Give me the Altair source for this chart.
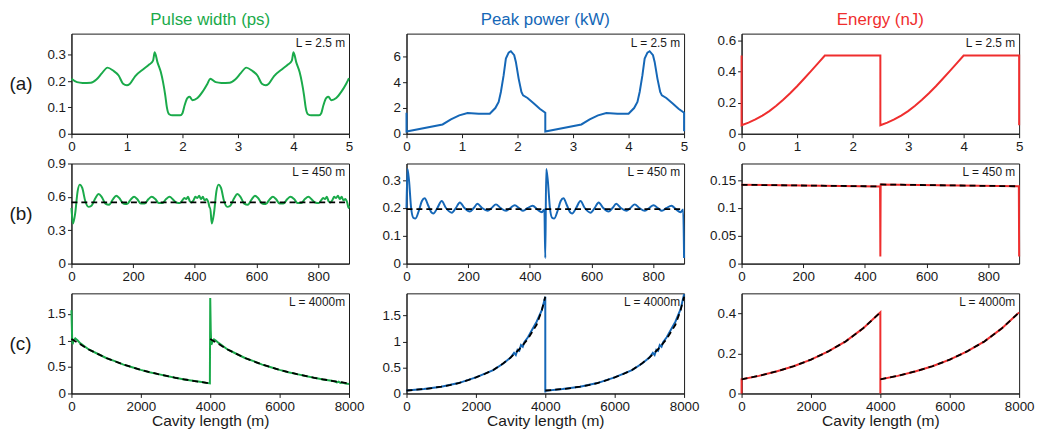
import altair as alt
import pandas as pd

FONT = "Liberation Sans"
GREEN = "#1aaa4a"
BLUE = "#1567b7"
RED = "#ef2e2e"
INK = "#1a1a1a"
W, H = 280, 101

COL_TITLES = ["Pulse width (ps)", "Peak power (kW)", "Energy (nJ)"]
COL_COLORS = [GREEN, BLUE, RED]
ROW_LABELS = ["(a)", "(b)", "(c)"]
L_LABELS = ["L = 2.5 m", "L = 450 m", "L = 4000m"]
X_TITLE = "Cavity length (m)"

X_DOMAINS = [[0, 5], [0, 900], [0, 8000]]
X_TICKS = [[0, 1, 2, 3, 4, 5], [0, 200, 400, 600, 800], [0, 2000, 4000, 6000, 8000]]
Y_DOMAINS = [
    [[0, 0.38], [0, 7.75], [0, 0.645]],
    [[0, 0.9], [0, 0.36], [0, 0.18]],
    [[0, 1.89], [0, 1.925], [0, 0.5]],
]
Y_TICKS = [
    [[0, 0.1, 0.2, 0.3], [0, 2, 4, 6], [0, 0.2, 0.4, 0.6]],
    [[0, 0.3, 0.6, 0.9], [0, 0.1, 0.2, 0.3], [0, 0.05, 0.1, 0.15]],
    [[0, 0.5, 1, 1.5], [0, 0.5, 1, 1.5], [0, 0.2, 0.4]],
]

# ---- row (a), one round trip (0 - 2.5 m) ----
PW_A_X = [0, 0.1, 0.2, 0.35, 0.45, 0.55, 0.65, 0.75, 0.85, 0.93, 1.0, 1.05, 1.15, 1.3, 1.4,
          1.47, 1.5, 1.55, 1.61, 1.65, 1.69, 1.72, 1.76, 1.82, 1.96, 2.0, 2.04, 2.09, 2.13,
          2.18, 2.27, 2.36, 2.45]
PW_A_Y = [0.209, 0.196, 0.193, 0.194, 0.206, 0.23, 0.251, 0.24, 0.221, 0.19, 0.184, 0.189,
          0.219, 0.246, 0.2625, 0.2775, 0.309, 0.271, 0.234, 0.196, 0.146, 0.099, 0.074,
          0.07, 0.07, 0.078, 0.109, 0.136, 0.14, 0.1275, 0.136, 0.159, 0.19]
PW_A_END = [5.0, 0.211]

PP_A_X = [0, 0.65, 0.8, 0.95, 1.1, 1.3, 1.5, 1.6, 1.66, 1.7, 1.75, 1.79, 1.84, 1.88, 1.94,
          1.97, 2.02, 2.07, 2.1, 2.18, 2.3, 2.4, 2.5]
PP_A_Y = [0.18, 0.72, 1.11, 1.42, 1.6, 1.55, 1.55, 1.99, 2.46, 3.23, 4.53, 5.82, 6.28, 6.39,
          6.08, 5.56, 4.27, 3.23, 2.97, 2.77, 2.33, 1.94, 1.63]

EN_A_X = [0, 0.125, 0.25, 0.375, 0.5, 0.625, 0.75, 0.875, 1.0, 1.125, 1.25, 1.375, 1.5, 2.5]
EN_A_Y = [0.055, 0.072, 0.092, 0.117, 0.146, 0.18, 0.219, 0.261, 0.306, 0.354, 0.403, 0.453,
          0.504, 0.504]

# ---- row (b), one round trip (0 - 450 m) ----
PW_B_X = [0, 5, 12, 20, 27, 35, 45, 55, 65, 78, 88, 98, 110, 122, 135, 145, 155, 168, 180,
          192, 203, 213, 225, 237, 250, 260, 272, 283, 295, 307, 318, 330, 340, 352, 360,
          366, 372, 378, 384, 390, 396, 402, 408, 414, 420, 426, 432, 438, 444, 449]
PW_B_Y = [0.5, 0.36, 0.45, 0.65, 0.71, 0.68, 0.56, 0.51, 0.52, 0.59, 0.625, 0.6, 0.54, 0.53,
          0.58, 0.61, 0.59, 0.54, 0.535, 0.575, 0.6, 0.58, 0.54, 0.54, 0.58, 0.6, 0.58,
          0.545, 0.545, 0.58, 0.6, 0.575, 0.55, 0.545, 0.57, 0.59, 0.58, 0.6, 0.56, 0.55,
          0.57, 0.6, 0.59, 0.61, 0.58, 0.6, 0.57, 0.58, 0.55, 0.5]
PW_B_MEAN = 0.55

PP_B_X = [3, 8, 15, 22, 29, 40, 50, 59, 70, 80, 87, 100, 114, 128, 147, 160, 173, 188, 205,
          218, 230, 245, 263, 276, 290, 305, 323, 337, 351, 365, 378, 393, 409, 424, 439, 447]
PP_B_Y = [0.34, 0.3, 0.2, 0.165, 0.162, 0.19, 0.225, 0.235, 0.21, 0.185, 0.18, 0.2, 0.225,
          0.2, 0.183, 0.2, 0.22, 0.2, 0.187, 0.2, 0.215, 0.2, 0.19, 0.2, 0.213, 0.2, 0.19,
          0.2, 0.21, 0.2, 0.19, 0.2, 0.208, 0.195, 0.185, 0.195]
PP_B_START = 0.2
PP_B_DROP = 0.02
PP_B_MEAN = 0.196

EN_B_X = [0, 449, 450, 451, 899, 900]
EN_B_Y = [0.1417, 0.1388, 0.013, 0.1423, 0.139, 0.013]
EN_B_DASH_X = [[0, 450], [450, 900]]
EN_B_DASH_Y = [[0.1417, 0.1388], [0.1423, 0.139]]

# ---- row (c) ----
PW_C_X = [0, 20, 35, 60, 110, 180, 250, 500, 750, 1000, 1250, 1500, 1750, 2000, 2250, 2500,
          2750, 3000, 3250, 3500, 3750, 3990,
          4000, 4015, 4030, 4070, 4110, 4160, 4250, 4500, 4750, 5000, 5250, 5500, 5750, 6000,
          6250, 6500, 6750, 7000, 7250, 7500, 7600, 7650, 7700, 7750, 7800, 7900, 8000]
PW_C_Y = [1.57, 1.05, 0.93, 1.0, 1.04, 1.0, 0.95, 0.83, 0.75, 0.67, 0.61, 0.545, 0.495, 0.445,
          0.4, 0.365, 0.33, 0.295, 0.265, 0.24, 0.215, 0.19,
          1.8, 1.2, 0.92, 0.98, 1.02, 1.0, 0.95, 0.83, 0.75, 0.67, 0.61, 0.545, 0.495, 0.445,
          0.4, 0.365, 0.33, 0.295, 0.265, 0.24, 0.225, 0.21, 0.222, 0.2, 0.207, 0.19, 0.18]
PW_C_DASH_X = [0, 500, 1000, 1500, 2000, 2500, 3000, 3500, 4000]
PW_C_DASH_Y = [1.03, 0.83, 0.67, 0.545, 0.445, 0.365, 0.295, 0.24, 0.19]

PP_C_X = [0, 500, 1000, 1500, 2000, 2500, 2800, 3000, 3100, 3150, 3200, 3250, 3300, 3350,
          3400, 3500, 3600, 3750, 3900, 4000, 4000,
          4000, 4500, 5000, 5500, 6000, 6500, 6800, 7000, 7100, 7150, 7200, 7250, 7300, 7350,
          7400, 7500, 7600, 7750, 7900, 8000]
PP_C_Y = [0.057, 0.085, 0.13, 0.2, 0.31, 0.45, 0.58, 0.69, 0.78, 0.74, 0.84, 0.82, 0.93, 0.9,
          0.99, 1.08, 1.2, 1.38, 1.6, 1.86, 0.02,
          0.05, 0.085, 0.13, 0.2, 0.31, 0.45, 0.58, 0.69, 0.78, 0.74, 0.84, 0.82, 0.93, 0.9,
          0.99, 1.08, 1.2, 1.38, 1.62, 1.91]
PP_C_DASH_X = [0, 250, 500, 750, 1000, 1250, 1500, 1750, 2000, 2250, 2500, 2750, 3000, 3250,
               3500, 3750, 3900, 4000]
PP_C_DASH_Y = [0.057, 0.07, 0.085, 0.105, 0.13, 0.16, 0.2, 0.25, 0.31, 0.375, 0.45, 0.56,
               0.69, 0.85, 1.05, 1.32, 1.6, 1.86]

EN_C_X = [0, 500, 1000, 1500, 2000, 2500, 3000, 3500, 4000]
EN_C_Y = [0.071, 0.088, 0.11, 0.136, 0.169, 0.21, 0.26, 0.325, 0.405]


def seq(xs, ys, seg=0):
    return pd.DataFrame({"x": xs, "y": ys, "seg": seg})


def indexed(df):
    df = df.reset_index(drop=True)
    df["i"] = range(len(df))
    return df


def two_trips(xs, ys, period):
    return list(xs) + [v + period for v in xs], list(ys) + list(ys)


# build the tables
px, py = two_trips(PW_A_X, PW_A_Y, 2.5)
pw_a = indexed(seq(px + [PW_A_END[0]], py + [PW_A_END[1]]))

px, py = two_trips(PP_A_X, PP_A_Y, 2.5)
pp_a = indexed(seq([0] + px + [5.0], [PP_A_Y[-1]] + py + [0.2]))

px, py = two_trips(EN_A_X, EN_A_Y, 2.5)
en_a = indexed(seq([0] + px + [5.0], [EN_A_Y[-1]] + py + [EN_A_Y[0]]))

px, py = two_trips(PW_B_X, PW_B_Y, 450)
pw_b = indexed(seq(px + [900], py + [0.52]))
pw_b_d = indexed(seq([0, 900], [PW_B_MEAN, PW_B_MEAN]))

px, py = two_trips(PP_B_X, PP_B_Y, 450)
pp_b = indexed(seq([0] + px[:len(PP_B_X)] + [450] + px[len(PP_B_X):] + [900],
                   [PP_B_START] + py[:len(PP_B_Y)] + [PP_B_DROP] + py[len(PP_B_Y):] + [PP_B_DROP]))
pp_b_d = indexed(seq([0, 900], [PP_B_MEAN, PP_B_MEAN]))

en_b = indexed(seq(EN_B_X, EN_B_Y))
en_b_d = indexed(pd.concat([seq(EN_B_DASH_X[k], EN_B_DASH_Y[k], k) for k in range(2)]))

pw_c = indexed(seq(PW_C_X, PW_C_Y))
pw_c_d = indexed(pd.concat([seq([v + 4000 * k for v in PW_C_DASH_X], PW_C_DASH_Y, k) for k in range(2)]))

pp_c = indexed(seq(PP_C_X, PP_C_Y))
pp_c_d = indexed(pd.concat([seq([v + 4000 * k for v in PP_C_DASH_X], PP_C_DASH_Y, k) for k in range(2)]))

ex, ey = two_trips(EN_C_X, EN_C_Y, 4000)
en_c = indexed(seq([0] + ex[:9] + [4000] + ex[9:], [0.0] + ey[:9] + [0.0] + ey[9:]))
en_c_d = indexed(pd.concat([seq([v + 4000 * k for v in EN_C_X], EN_C_Y, k) for k in range(2)]))

SOLID = [[pw_a, pp_a, en_a], [pw_b, pp_b, en_b], [pw_c, pp_c, en_c]]
DASHED = [[None, None, None], [pw_b_d, pp_b_d, en_b_d], [pw_c_d, pp_c_d, en_c_d]]
# smooth curves (no repeated x positions) are drawn with a monotone line
SMOOTH = [[True, False, False], [True, True, False], [False, False, False]]


def panel(r, c):
    xscale = alt.Scale(domain=X_DOMAINS[r], nice=False, zero=False)
    yscale = alt.Scale(domain=Y_DOMAINS[r][c], nice=False, zero=False)
    xkw = dict(values=X_TICKS[r], format="d", labelFlush=False, labelOverlap=False)
    if r == 2:
        xaxis = alt.Axis(title=X_TITLE, titleFontSize=15.7, titlePadding=1, **xkw)
    else:
        xaxis = alt.Axis(title=None, **xkw)
    ykw = dict(values=Y_TICKS[r][c], format="~r", labelOverlap=False)
    if c == 0:
        yaxis = alt.Axis(title=ROW_LABELS[r], titleAngle=0, titleAlign="left",
                         titleBaseline="middle", titleX=-63, titleY=H / 2, titleFontSize=19,
                         **ykw)
    else:
        yaxis = alt.Axis(title=None, **ykw)
    xe = alt.X("x:Q", scale=xscale, axis=xaxis)
    ye = alt.Y("y:Q", scale=yscale, axis=yaxis)
    line_kw = dict(color=COL_COLORS[c], strokeWidth=2, clip=False)
    if SMOOTH[r][c]:
        line_kw["interpolate"] = "monotone"
    layers = [alt.Chart(SOLID[r][c]).mark_line(**line_kw).encode(x=xe, y=ye, order="i:Q")]
    if DASHED[r][c] is not None:
        layers.append(
            alt.Chart(DASHED[r][c]).mark_line(color="black", strokeDash=[6, 4], strokeWidth=1.8)
            .encode(x=xe, y=ye, detail="seg:N", order="i:Q")
        )
    layers.append(
        alt.Chart(pd.DataFrame({"t": [L_LABELS[r]]}))
        .mark_text(align="right", baseline="top", font=FONT, fontSize=12, color=INK)
        .encode(x=alt.value(W - 4), y=alt.value(4), text="t:N")
    )
    ch = alt.layer(*layers).properties(width=W, height=H)
    if r == 0:
        ch = ch.properties(title=alt.TitleParams(COL_TITLES[c], color=COL_COLORS[c],
                                                 fontSize=17, font=FONT,
                                                 fontWeight="normal", offset=5))
    return ch


panels = [panel(r, c) for r in range(3) for c in range(3)]

chart = (
    alt.concat(*panels, columns=3, spacing={"row": 30, "column": 58}, bounds="flush")
    .properties(padding=0)
    .configure_axis(labelFont=FONT, labelFontSize=13.5, labelColor=INK, tickColor=INK,
                    domainColor=INK, tickSize=4, labelPadding=2, grid=False, titleFont=FONT,
                    titleFontWeight="normal", titleColor=INK)
    .configure_view(stroke=INK, strokeWidth=1)
    .configure_title(anchor="middle")
)

chart.save("out.html", embed_options={"renderer": "svg", "actions": False})
